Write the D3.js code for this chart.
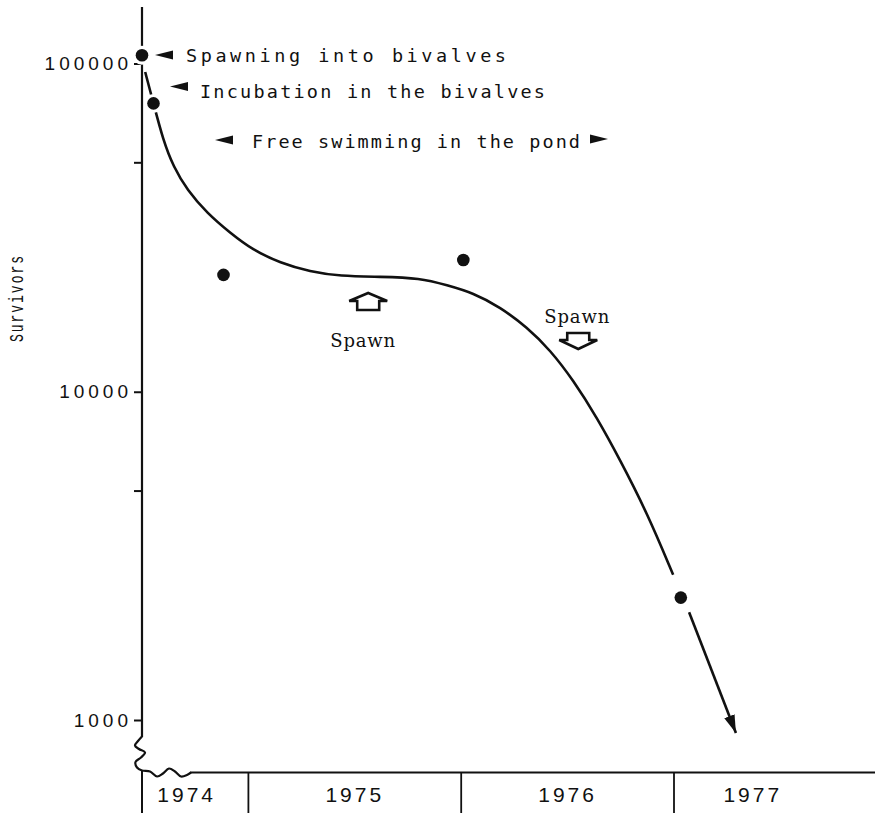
<!DOCTYPE html>
<html>
<head>
<meta charset="utf-8">
<script src="https://cdn.jsdelivr.net/npm/d3@7"></script>
<style>
  html, body { margin: 0; padding: 0; background: #fff; }
  svg { display: block; }
</style>
</head>
<body>
<svg id="chart" width="875" height="813"></svg>
<script>
// Survey counts of survivors (time in decimal years)
const surveyYears = [1974.500, 1974.554, 1974.883, 1976.010, 1977.032];
const survivors   = [106000, 75600, 22700, 25200, 2360];

// Hand-fitted survival trend
const trendYears  = [1974.515, 1974.554, 1974.599, 1974.648, 1974.712, 1974.806, 1974.914,
                     1975.022, 1975.149, 1975.290, 1975.431, 1975.619, 1975.807, 1975.934,
                     1976.056, 1976.183, 1976.310, 1976.418, 1976.526, 1976.639, 1976.747,
                     1976.874, 1976.996];
const trendValues = [94200, 75600, 58500, 48400, 41200, 35000, 30500,
                     27000, 24700, 23200, 22500, 22400, 22200, 21100,
                     20000, 18100, 15700, 13400, 10860, 8320, 6190,
                     4270, 2770];

// Projected decline after the last survey
const projectionYears  = [1977.071, 1977.291];
const projectionValues = [2130, 913];

// Axis ticks and labels
const yTickValues = [1000, 5000, 10000, 50000, 100000];
const yTickLabels = ["1000", "", "10000", "", "100000"];
const yearBreaks  = [1975, 1976, 1977];
const yearNames   = ["1974", "1975", "1976", "1977"];
const yearLabelAt = [1974.71, 1975.50, 1976.50, 1977.37];

// Spawning events
const spawnYears  = [1975.563, 1976.550];
const spawnDirs   = ["up", "down"];

const svg = d3.select("#chart");
const ink = "#111";

const x = d3.scaleLinear().domain([1974.5, 1978]).range([142, 886.8]);
const y = d3.scaleLog().domain([1000, 100000]).range([720, 63.5]);

const axisX = x(1974.5);      // vertical axis position
const baseY = 772.5;          // horizontal time axis

// ---- vertical axis line with a break at the bottom ----
svg.append("line")
  .attr("x1", axisX).attr("x2", axisX)
  .attr("y1", 7).attr("y2", 737)
  .attr("stroke", ink).attr("stroke-width", 2.2);

const breakPts = [[axisX, 736.5], [138, 741], [135, 745.5], [139, 749], [145, 752.5],
                  [141, 757.5], [135.5, 762], [137, 767.5], [142, 770.5], [150, 771.5],
                  [157, 776.5], [163, 773.5], [169, 768.5], [175, 771.5], [181, 776.5],
                  [187, 775], [191, baseY]];
svg.append("path")
  .attr("d", d3.line().curve(d3.curveCatmullRom.alpha(0.5))(breakPts))
  .attr("fill", "none").attr("stroke", ink).attr("stroke-width", 2.2);

// horizontal time axis
svg.append("line")
  .attr("x1", 190).attr("x2", 875)
  .attr("y1", baseY).attr("y2", baseY)
  .attr("stroke", ink).attr("stroke-width", 2.2);

// year compartments below the time axis
svg.append("line")
  .attr("x1", axisX).attr("x2", axisX)
  .attr("y1", 770).attr("y2", 813)
  .attr("stroke", ink).attr("stroke-width", 2);
svg.selectAll("line.yearsep").data(yearBreaks).join("line")
  .attr("class", "yearsep")
  .attr("x1", d => x(d)).attr("x2", d => x(d))
  .attr("y1", baseY).attr("y2", 813)
  .attr("stroke", ink).attr("stroke-width", 1.8);

svg.selectAll("text.year").data(yearNames).join("text")
  .attr("class", "year")
  .attr("x", (d, i) => x(yearLabelAt[i]))
  .attr("y", 802)
  .attr("text-anchor", "middle")
  .attr("font-family", "Liberation Sans, Arial, sans-serif")
  .attr("font-size", 21)
  .attr("letter-spacing", 3)
  .attr("fill", ink)
  .text(d => d);

// ---- log axis ticks ----
const yAxis = d3.axisLeft(y)
  .tickValues(yTickValues)
  .tickSize(8)
  .tickPadding(6)
  .tickFormat((d, i) => yTickLabels[i]);
const gY = svg.append("g").attr("transform", `translate(${axisX},0)`).call(yAxis);
gY.select(".domain").remove();
gY.selectAll(".tick line").attr("stroke", ink).attr("stroke-width", 2);
gY.selectAll(".tick text")
  .attr("font-family", "Liberation Sans, Arial, sans-serif")
  .attr("font-size", 19)
  .attr("letter-spacing", 4)
  .attr("dx", 4)
  .attr("fill", ink);

// axis title
svg.append("text")
  .attr("transform", "translate(23,299) rotate(-90) scale(1,1.55)")
  .attr("text-anchor", "middle")
  .attr("font-family", "Liberation Mono, Courier New, monospace")
  .attr("font-size", 13)
  .attr("textLength", 86)
  .attr("lengthAdjust", "spacing")
  .attr("fill", ink)
  .text("Survivors");

// ---- trend curve ----
const trend = trendYears.map((t, i) => [x(t), y(trendValues[i])]);
svg.append("path")
  .attr("d", d3.line().curve(d3.curveBasis)(trend))
  .attr("fill", "none").attr("stroke", ink).attr("stroke-width", 2.6);

// projection arrow
const defs = svg.append("defs");
defs.append("marker")
  .attr("id", "head")
  .attr("markerUnits", "userSpaceOnUse")
  .attr("markerWidth", 20).attr("markerHeight", 12)
  .attr("viewBox", "0 -6 20 12")
  .attr("refX", 18).attr("refY", 0)
  .attr("orient", "auto")
  .append("path")
  .attr("d", "M0,-5.5L18,0L0,5.5Z")
  .attr("fill", ink);

const proj = projectionYears.map((t, i) => [x(t), y(projectionValues[i])]);
svg.append("path")
  .attr("d", d3.line()(proj))
  .attr("fill", "none").attr("stroke", ink).attr("stroke-width", 2.6)
  .attr("marker-end", "url(#head)");

// ---- survey points ----
svg.selectAll("circle.halo").data(surveyYears).join("circle")
  .attr("class", "halo")
  .attr("cx", d => x(d)).attr("cy", (d, i) => y(survivors[i]))
  .attr("r", 9.5).attr("fill", "#fff");
svg.selectAll("circle.dot").data(surveyYears).join("circle")
  .attr("class", "dot")
  .attr("cx", d => x(d)).attr("cy", (d, i) => y(survivors[i]))
  .attr("r", 6.3).attr("fill", ink);

// ---- stage annotations ----
const monoSans = "DejaVu Sans Mono, monospace";
function pointer(cx, cy, dir) {
  // flat wedge pointing left (-1) or right (+1), tip at cx
  const len = 18, half = 4.5;
  const bx = cx - dir * len;
  return `M${cx},${cy}L${bx},${cy - half}L${bx},${cy + half}Z`;
}
function stage(text, x0, yb, width) {
  svg.append("text")
    .attr("x", x0).attr("y", yb)
    .attr("font-family", monoSans)
    .attr("font-size", 18.5)
    .attr("textLength", width)
    .attr("lengthAdjust", "spacing")
    .attr("fill", ink)
    .text(text);
}
svg.append("path").attr("d", pointer(155, 55, -1)).attr("fill", ink);
stage("Spawning into bivalves", 186, 61.5, 320);
svg.append("path").attr("d", pointer(170, 86.5, -1)).attr("fill", ink);
stage("Incubation in the bivalves", 200, 97.5, 345);
svg.append("path").attr("d", pointer(215, 140, -1)).attr("fill", ink);
stage("Free swimming in the pond", 252, 147.5, 328);
svg.append("path").attr("d", pointer(608, 139, 1)).attr("fill", ink);

// ---- spawning markers ----
function spawnArrow(cx, dir) {
  // hollow block arrow; dir "up" sits below the curve, "down" above it
  if (dir === "up") {
    const tip = 293;
    return `M${cx},${tip}L${cx + 19},${tip + 8}L${cx + 11},${tip + 8}L${cx + 11},${tip + 17}` +
           `L${cx - 11},${tip + 17}L${cx - 11},${tip + 8}L${cx - 19},${tip + 8}Z`;
  }
  const tip = 349;
  return `M${cx},${tip}L${cx + 19},${tip - 9}L${cx + 11},${tip - 9}L${cx + 11},${tip - 16}` +
         `L${cx - 11},${tip - 16}L${cx - 11},${tip - 9}L${cx - 19},${tip - 9}Z`;
}
spawnYears.forEach((t, i) => {
  const cx = x(t);
  svg.append("path")
    .attr("d", spawnArrow(cx, spawnDirs[i]))
    .attr("fill", "#fff").attr("stroke", ink).attr("stroke-width", 2.6)
    .attr("stroke-linejoin", "miter");
  svg.append("text")
    .attr("x", spawnDirs[i] === "up" ? cx - 5.5 : cx - 1.5)
    .attr("y", spawnDirs[i] === "up" ? 347 : 323)
    .attr("text-anchor", "middle")
    .attr("font-family", "DejaVu Serif, Liberation Serif, serif")
    .attr("font-size", 18)
    .attr("textLength", 65)
    .attr("lengthAdjust", "spacing")
    .attr("fill", ink)
    .text("Spawn");
});
</script>
</body>
</html>
